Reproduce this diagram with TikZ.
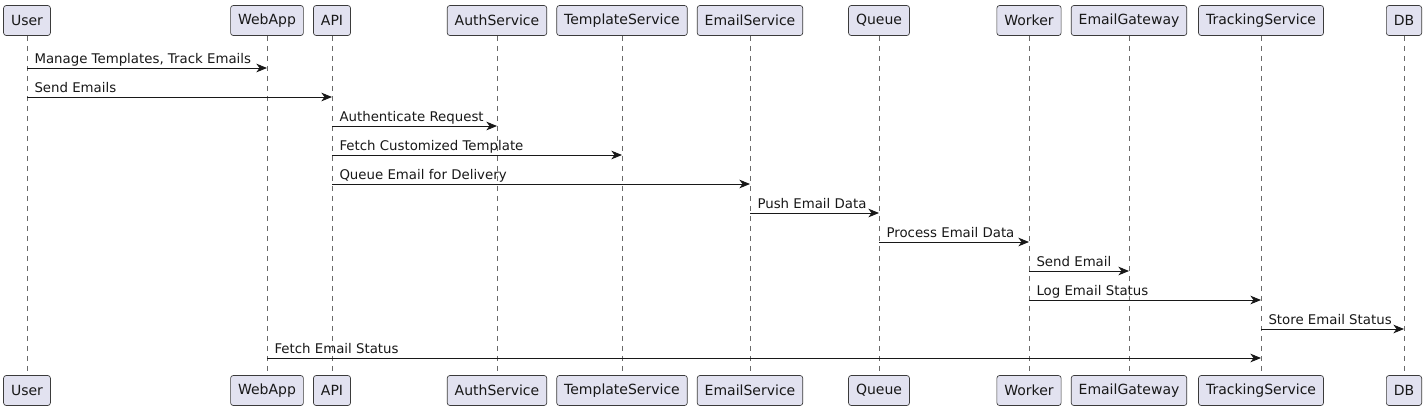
\documentclass[tikz,border=0pt]{standalone}
\usepackage{fontspec}
\setmainfont{DejaVu Sans}
\usetikzlibrary{arrows.meta}
\definecolor{partfill}{HTML}{E2E2F0}
\definecolor{partdraw}{HTML}{181818}
\definecolor{lifegray}{HTML}{6A6A6A}
\tikzset{
  part/.style={draw=partdraw!85, fill=partfill, rounded corners=2pt, line width=0.5pt,
    minimum height=22.5pt, inner xsep=5.6pt, text=partdraw, font=\fontsize{10.5}{12}\selectfont},
  life/.style={draw=lifegray, line width=0.5pt, dash pattern=on 3.75pt off 3.75pt},
  msg/.style={draw=partdraw, line width=0.75pt, -{Stealth[length=8pt,width=6.5pt,inset=2.4pt]}},
  msglabel/.style={pos=0, anchor=base west, inner sep=0pt, xshift=5.25pt, yshift=3.75pt,
    text=partdraw, font=\fontsize{10}{12}\selectfont}
}
\begin{document}
\begin{tikzpicture}[x=0.75pt,y=-0.75pt]
	\useasboundingbox (0,0) rectangle (1426,411);
	% participants, top and bottom, with their lifelines
	\foreach \name/\xpos in {User/27, WebApp/267, API/332, AuthService/497, TemplateService/622,
		EmailService/750, Queue/879, Worker/1029, EmailGateway/1129, TrackingService/1261, DB/1404}{
		\node[part] (\name-top) at (\xpos,20.5) {\name};
		\node[part] (\name-bot) at (\xpos,390.5) {\name};
		\draw[life] (\name-top) -- (\name-bot);
	}
	% messages
	\foreach \src/\dst/\ypos/\txt in {
		User/WebApp/68/{Manage Templates, Track Emails},
		User/API/97/{Send Emails},
		API/AuthService/126/{Authenticate Request},
		API/TemplateService/155/{Fetch Customized Template},
		API/EmailService/184/{Queue Email for Delivery},
		EmailService/Queue/213/{Push Email Data},
		Queue/Worker/242/{Process Email Data},
		Worker/EmailGateway/271/{Send Email},
		Worker/TrackingService/300/{Log Email Status},
		TrackingService/DB/329/{Store Email Status},
		WebApp/TrackingService/358/{Fetch Email Status}}{
		\draw[msg] (\src-top.south |- 0,\ypos) -- node[msglabel] {\txt} (\dst-top.south |- 0,\ypos);
	}
\end{tikzpicture}
\end{document}
